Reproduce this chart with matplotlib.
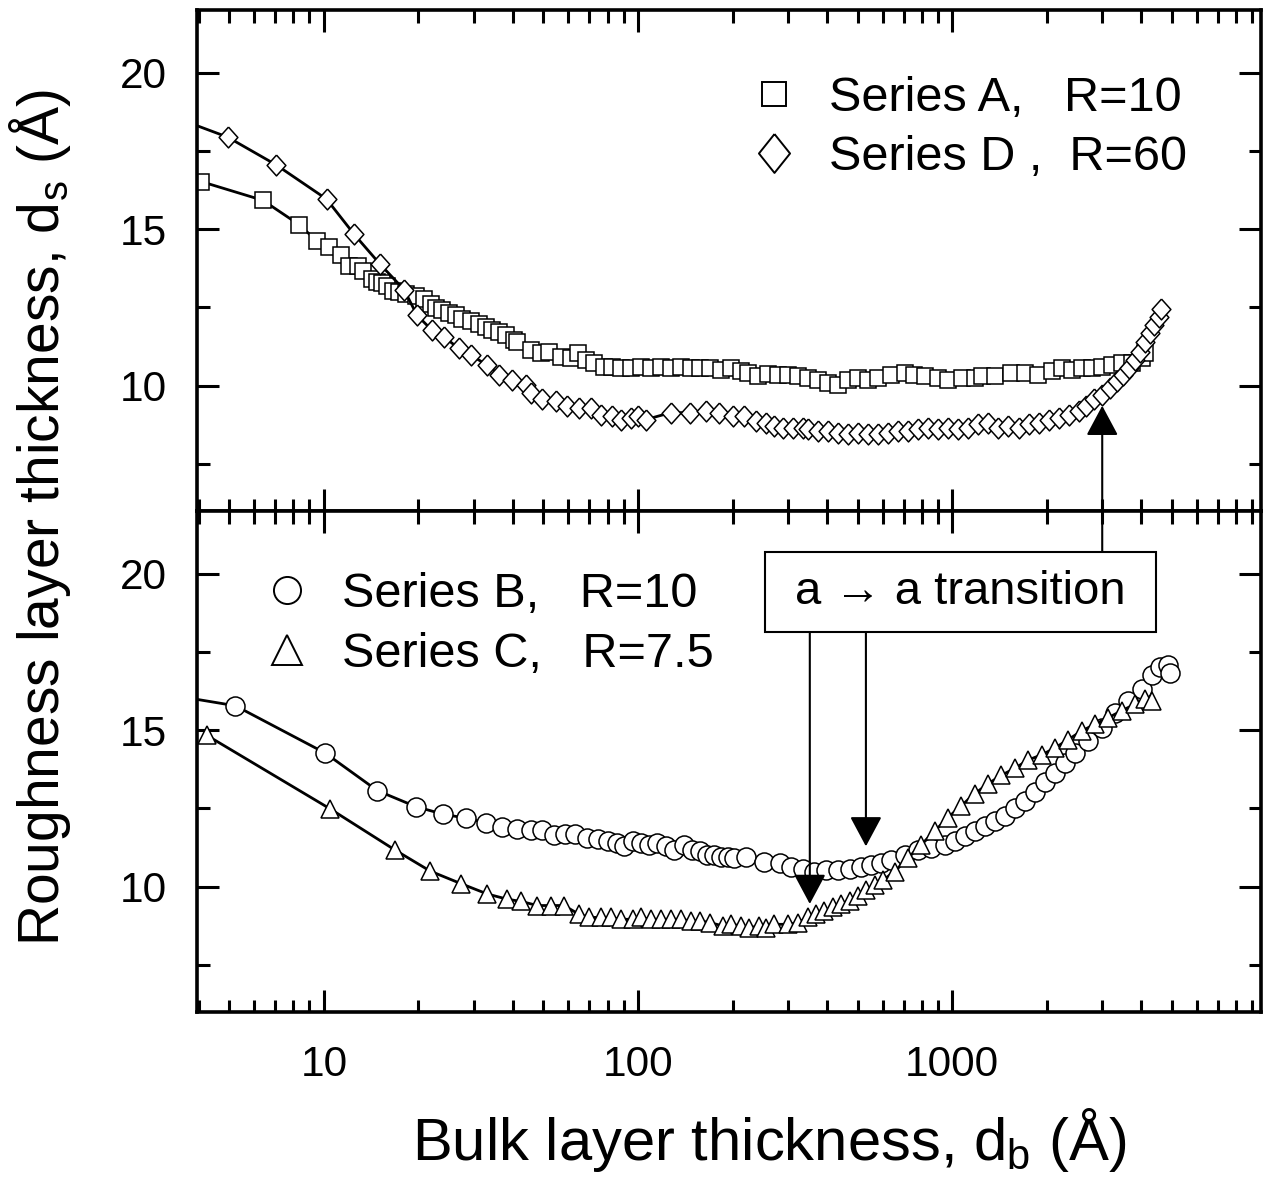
import numpy as np
import matplotlib
matplotlib.use('Agg')
import matplotlib.pyplot as plt
from matplotlib.lines import Line2D
from matplotlib.patches import Rectangle
from matplotlib.ticker import LogLocator, FixedLocator, NullFormatter, FuncFormatter

plt.rcParams['font.family'] = ['Liberation Sans', 'DejaVu Sans']
plt.rcParams['mathtext.fontset'] = 'custom'
plt.rcParams['mathtext.rm'] = 'Liberation Sans'
plt.rcParams['mathtext.it'] = 'Liberation Sans'

# ---------------- data ----------------
# Series A (squares, R=10) - top panel
a_x = [4.07, 6.4, 8.35, 9.51, 10.4, 11.3, 12.05, 12.8, 13.3, 14.2, 14.8, 15.3, 15.9, 16.6, 17.4,
       18.2, 19.6, 20.8, 21.9, 22.7, 23.8, 25.0, 26.3, 27.6, 29.3, 31.2, 32.7, 34.4, 36.1, 37.9,
       40.3, 41.3, 45.5, 49.0, 52.1, 56.7, 61.1, 64.2, 68.2, 72.5, 78.0, 82.9, 88.2, 94.9, 102,
       110, 118, 127, 137, 147, 158, 170, 183, 198, 213, 223, 240, 259, 278, 300, 322, 347, 373,
       402, 432, 465, 501, 538, 580, 639, 705, 758, 816, 901, 970, 1070, 1180, 1240, 1366, 1543,
       1702, 1877, 2069, 2228, 2398, 2583, 2776, 2988, 3215, 3460, 3723, 4008, 4105]
a_y = [16.52, 15.92, 15.14, 14.62, 14.43, 14.17, 13.83, 13.81, 13.65, 13.41, 13.30, 13.28, 13.20,
       13.04, 12.99, 12.93, 12.88, 12.78, 12.62, 12.48, 12.41, 12.33, 12.25, 12.14, 12.06, 11.98,
       11.88, 11.77, 11.72, 11.61, 11.46, 11.40, 11.14, 11.03, 11.09, 10.93, 10.88, 11.03, 10.82,
       10.72, 10.61, 10.61, 10.56, 10.56, 10.61, 10.56, 10.61, 10.56, 10.61, 10.56, 10.56, 10.56,
       10.51, 10.56, 10.46, 10.40, 10.30, 10.37, 10.33, 10.35, 10.30, 10.25, 10.19, 10.09, 10.03,
       10.19, 10.25, 10.19, 10.25, 10.35, 10.40, 10.35, 10.30, 10.25, 10.19, 10.25, 10.25, 10.30,
       10.30, 10.40, 10.40, 10.35, 10.46, 10.56, 10.51, 10.56, 10.56, 10.61, 10.66, 10.72, 10.72,
       10.88, 11.03]

# Series D (diamonds, R=60) - top panel
d_x = [3.5, 4.94, 7.06, 10.2, 12.5, 15.1, 18.0, 19.8, 22.1, 24.1, 26.9, 29.3, 33.1, 36.1, 39.8,
       43.9, 45.5, 49.6, 54.8, 59.6, 64.9, 70.8, 76.1, 82.9, 88.2, 94.9, 99.6, 106, 127, 146, 164,
       181, 200, 218, 238, 255, 271, 289, 311, 334, 347, 373, 402, 432, 465, 501, 538, 580, 623,
       670, 721, 776, 835, 901, 970, 1043, 1124, 1209, 1302, 1402, 1509, 1625, 1750, 1884, 2029,
       2185, 2352, 2533, 2660, 2820, 2990, 3180, 3340, 3500, 3640, 3820, 3960, 4110, 4270, 4370,
       4540, 4600]
d_y = [18.50, 17.94, 17.05, 15.96, 14.83, 13.88, 13.07, 12.25, 11.77, 11.56, 11.19, 10.98, 10.66,
       10.35, 10.19, 10.03, 9.77, 9.56, 9.51, 9.35, 9.29, 9.29, 9.08, 9.03, 8.92, 8.98, 9.03, 8.92,
       9.14, 9.14, 9.19, 9.14, 9.03, 9.03, 8.87, 8.82, 8.72, 8.66, 8.66, 8.66, 8.61, 8.56, 8.56,
       8.50, 8.45, 8.50, 8.45, 8.45, 8.50, 8.56, 8.56, 8.61, 8.66, 8.61, 8.66, 8.61, 8.66, 8.77,
       8.82, 8.66, 8.72, 8.66, 8.77, 8.82, 8.92, 8.98, 9.08, 9.19, 9.35, 9.56, 9.71, 9.93, 10.14,
       10.35, 10.56, 10.82, 11.09, 11.40, 11.67, 11.93, 12.20, 12.44]

# Series B (circles, R=10) - bottom panel
b_x = [3.6, 5.23, 10.1, 14.8, 19.6, 23.9, 28.3, 32.7, 37.0, 41.3, 45.5, 49.6, 54.0, 58.7, 63.0,
       69.0, 74.3, 80.0, 85.9, 90.4, 96.4, 102, 108, 115, 123, 130, 140, 149, 158, 166, 174, 183,
       193, 202, 221, 252, 282, 307, 334, 364, 397, 432, 471, 513, 552, 594, 640, 705, 778, 858,
       946, 1019, 1097, 1180, 1268, 1366, 1470, 1582, 1702, 1833, 1972, 2123, 2282, 2457, 2710,
       2988, 3295, 3630, 4008, 4315, 4585, 4872, 4935]
b_y = [16.05, 15.78, 14.27, 13.07, 12.56, 12.32, 12.19, 12.05, 11.92, 11.85, 11.82, 11.80, 11.65,
       11.70, 11.69, 11.56, 11.51, 11.47, 11.40, 11.29, 11.45, 11.40, 11.34, 11.40, 11.29, 11.18,
       11.34, 11.18, 11.13, 11.02, 11.02, 10.96, 10.96, 10.91, 10.96, 10.80, 10.75, 10.64, 10.58,
       10.48, 10.53, 10.53, 10.58, 10.64, 10.69, 10.75, 10.86, 11.02, 11.18, 11.23, 11.34, 11.45,
       11.61, 11.78, 11.94, 12.10, 12.26, 12.53, 12.75, 13.02, 13.34, 13.62, 13.94, 14.27, 14.64,
       15.08, 15.56, 15.94, 16.32, 16.75, 17.03, 17.08, 16.81]

# Series C (triangles, R=7.5) - bottom panel
c_x = [4.25, 10.5, 16.8, 21.8, 27.3, 33.1, 38.4, 42.5, 47.8, 52.7, 58.1, 64.9, 69.8, 76.1, 81.8,
       88.2, 96.4, 102, 110, 118, 127, 137, 147, 158, 170, 186, 198, 213, 226, 243, 255, 271, 300,
       322, 347, 369, 392, 417, 443, 471, 501, 532, 566, 601, 655, 722, 796, 879, 969, 1069, 1178,
       1300, 1433, 1580, 1744, 1923, 2120, 2338, 2578, 2843, 3137, 3460, 3813, 4105, 4315]
c_y = [14.83, 12.48, 11.18, 10.50, 10.10, 9.77, 9.60, 9.53, 9.40, 9.40, 9.40, 9.12, 9.02, 9.02,
       9.02, 8.96, 8.96, 9.02, 8.96, 8.96, 8.96, 8.96, 8.91, 8.91, 8.85, 8.75, 8.80, 8.75, 8.69,
       8.75, 8.69, 8.80, 8.80, 8.85, 9.02, 9.12, 9.23, 9.34, 9.45, 9.56, 9.72, 9.88, 10.05, 10.21,
       10.48, 10.91, 11.34, 11.78, 12.21, 12.59, 12.97, 13.29, 13.56, 13.78, 14.05, 14.21, 14.43,
       14.70, 14.97, 15.19, 15.40, 15.62, 15.83, 16.00, 15.94]

top_labels = ['Series A,   R=10', 'Series D ,  R=60']
bot_labels = ['Series B,   R=10', 'Series C,   R=7.5']
x_ticks = [10, 100, 1000]
y_major = [10, 15, 20]
y_minor = [7.5, 12.5, 17.5]

# custom diamond shapes
diam_data = [(0, 1), (0.9, 0), (0, -1), (-0.9, 0), (0, 1)]
diam_leg = [(0, 1), (0.8, 0), (0, -1), (-0.8, 0), (0, 1)]

fig = plt.figure(figsize=(12.64, 11.85), dpi=100)
gs = fig.add_gridspec(2, 1, left=0.1559, right=0.9976, top=0.9916, bottom=0.146, hspace=0)
ax1 = fig.add_subplot(gs[0])
ax2 = fig.add_subplot(gs[1])

for ax in (ax1, ax2):
    ax.set_xscale('log')
    ax.set_xlim(3.95, 9600)
    ax.set_ylim(6, 22)
    ax.yaxis.set_major_locator(FixedLocator(y_major))
    ax.yaxis.set_minor_locator(FixedLocator(y_minor))
    ax.xaxis.set_major_locator(FixedLocator(x_ticks))
    ax.xaxis.set_minor_locator(LogLocator(base=10, subs=np.arange(2, 10)))
    ax.xaxis.set_minor_formatter(NullFormatter())
    ax.xaxis.set_major_formatter(FuncFormatter(lambda v, p: f'{v:g}'))
    ax.tick_params(which='both', direction='in', top=True, right=True, width=2.2,
                   labelsize=30.5, pad=22)
    ax.tick_params(which='major', length=16)
    ax.tick_params(which='minor', length=9)
    for s in ax.spines.values():
        s.set_linewidth(2.6)
ax1.tick_params(labelbottom=False)
ax2.tick_params(axis='x', pad=24)

mk = dict(mfc='white', mec='black', mew=1.1, color='black', lw=2)
ax1.plot(a_x, a_y, marker='s', ms=12, **mk)
ax1.plot(d_x, d_y, marker=diam_data, ms=15, **mk)
ax2.plot(b_x, b_y, marker='o', ms=13.7, **mk)
ax2.plot(c_x, c_y, marker='^', ms=13.5, **mk)

lk = dict(ls='none', mfc='white', mec='black', mew=1.4)
h_top = [Line2D([], [], marker='s', ms=17, **lk), Line2D([], [], marker=diam_leg, ms=28, **lk)]
h_bot = [Line2D([], [], marker='o', ms=19.5, **lk), Line2D([], [], marker='^', ms=21, **lk)]
lg = dict(frameon=False, fontsize=35, handlelength=1.0, handletextpad=0.63, labelspacing=0.3,
          borderaxespad=0, borderpad=0, loc='upper left')
ax1.legend(h_top, top_labels, bbox_to_anchor=(0.5195, 0.869), **lg)
ax2.legend(h_bot, bot_labels, bbox_to_anchor=(0.0617, 0.878), **lg)

# annotation box with text and arrows
ax2.add_patch(Rectangle((253.6, 18.14), 4436 - 253.6, 20.70 - 18.14, fc='white', ec='black',
                        lw=1.5, zorder=5))
ax2.text(1060, 19.40, 'a \u2192 a transition', ha='center', va='center', fontsize=34, zorder=6)
ap = dict(arrowstyle='-|>,head_length=18.7,head_width=10', mutation_scale=1, lw=1.5,
          color='black', shrinkA=0, shrinkB=0)
ax2.annotate('', xy=(352, 9.45), xytext=(352, 18.14), arrowprops=ap)
ax2.annotate('', xy=(531, 11.29), xytext=(531, 18.14), arrowprops=ap)
ax2.annotate('', xy=(3000, 9.36), xycoords=ax1.transData, xytext=(3000, 20.7),
             textcoords=ax2.transData, arrowprops=ap, annotation_clip=False)

fig.text(769 / 1264, 1 - 1140 / 1185, r'Bulk layer thickness, d$_\mathrm{b}$ (Å)',
         fontsize=43, ha='center', va='center')
fig.text(40 / 1264, 1 - 518 / 1185, r'Roughness layer thickness, d$_\mathrm{s}$ (Å)',
         fontsize=41, ha='center', va='center', rotation=90)

fig.savefig('out.png', dpi=100)
